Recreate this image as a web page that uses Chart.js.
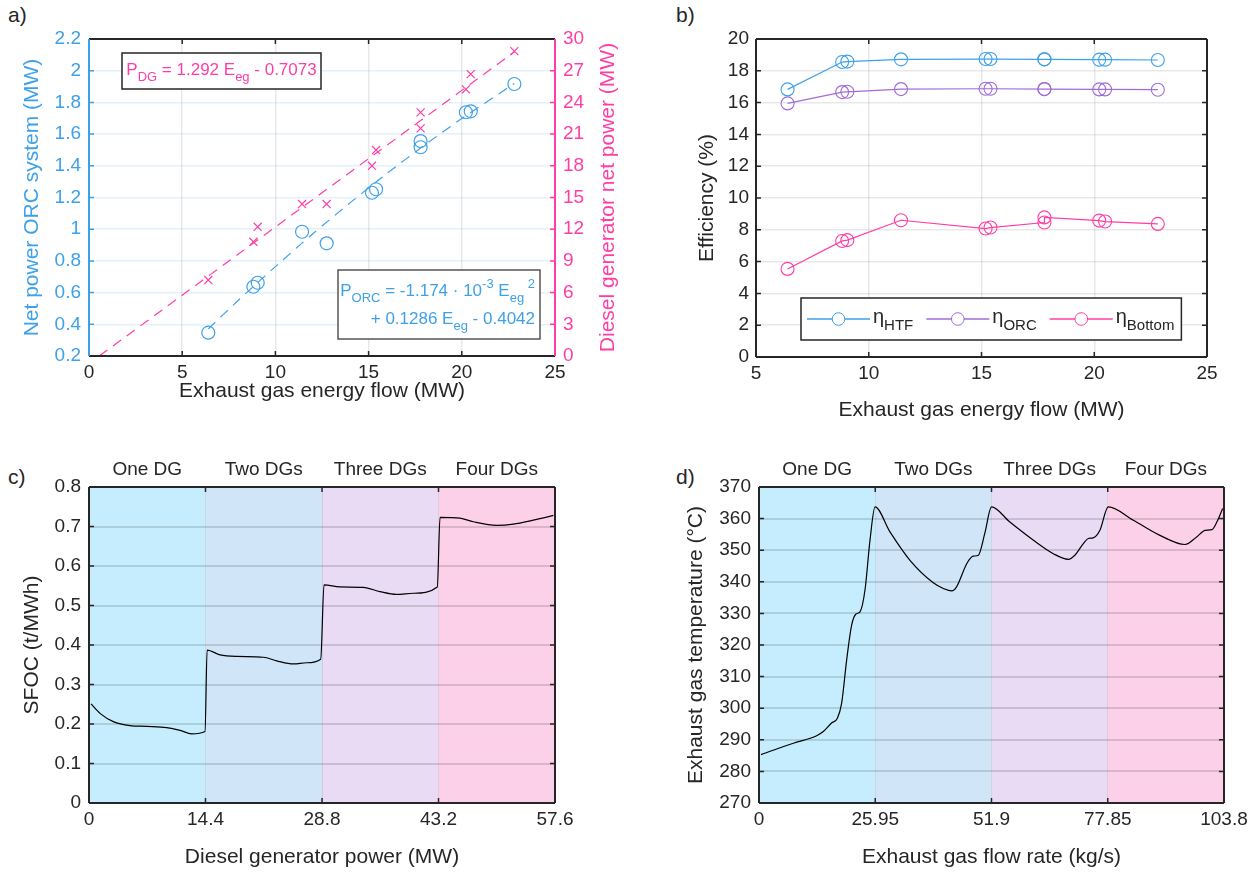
<!DOCTYPE html>
<html>
<head>
<meta charset="utf-8">
<script src="https://cdn.jsdelivr.net/npm/chart.js@4.4.0/dist/chart.umd.min.js"></script>
<style>
  body { margin: 0; background: #fff; width: 1259px; height: 873px; overflow: hidden; position: relative; font-family: 'Liberation Sans', Arial, sans-serif; }
  .panel { position: absolute; }
  .tag { position: absolute; font-size: 21px; color: #262626; line-height: 1; }
</style>
</head>
<body>
<div class="tag" style="left:8px;top:4px">a)</div>
<div class="tag" style="left:676px;top:4px">b)</div>
<div class="tag" style="left:8px;top:466px">c)</div>
<div class="tag" style="left:676px;top:466px">d)</div>

<canvas class="panel" id="chartA" width="640" height="440" style="left:0;top:0"></canvas>
<canvas class="panel" id="chartB" width="599" height="440" style="left:660px;top:0"></canvas>
<canvas class="panel" id="chartC" width="640" height="433" style="left:0;top:440px"></canvas>
<canvas class="panel" id="chartD" width="599" height="433" style="left:660px;top:440px"></canvas>

<script>
const FONT = "'Liberation Sans', Arial, sans-serif";
const INK = '#262626';
const BLUE = '#3da1ea';
const PINK = '#ff3ea5';
const PURPLE = '#a06cd5';

// a) ORC net power and DG net power vs exhaust gas energy flow
const egFlow   = [6.40, 8.82, 9.05, 11.43, 12.75, 15.18, 15.40, 17.79, 17.79, 20.22, 20.48, 22.82];
const orcPower = [0.347, 0.637, 0.662, 0.984, 0.911, 1.230, 1.252, 1.556, 1.517, 1.738, 1.744, 1.916];
const dgPower  = [7.19, 10.81, 12.23, 14.38, 14.38, 18.00, 19.49, 23.06, 21.54, 25.23, 26.68, 28.85];
const dgFitFlow  = [0.55, 22.82];
const dgFitPower = [0, 28.78];
const orcFitFlow  = [6.4, 8, 10, 12, 14, 16, 18, 20, 22.82];
const orcFitPower = [0.371, 0.550, 0.764, 0.970, 1.166, 1.353, 1.530, 1.698, 1.919];
const aTicksX = [0, 5, 10, 15, 20, 25];
const aTicksLeft = [0.2, 0.4, 0.6, 0.8, 1, 1.2, 1.4, 1.6, 1.8, 2, 2.2];
const aTicksRight = [0, 3, 6, 9, 12, 15, 18, 21, 24, 27, 30];

// b) efficiencies
const effFlow   = [6.40, 8.82, 9.05, 11.43, 15.18, 15.40, 17.79, 17.79, 20.22, 20.48, 22.82];
const etaHTF    = [16.83, 18.55, 18.58, 18.72, 18.74, 18.74, 18.72, 18.72, 18.70, 18.70, 18.68];
const etaORC    = [15.95, 16.66, 16.68, 16.85, 16.87, 16.87, 16.85, 16.85, 16.83, 16.83, 16.81];
const etaBottom = [5.54, 7.30, 7.35, 8.60, 8.08, 8.14, 8.46, 8.78, 8.58, 8.52, 8.37];
const bTicksX = [5, 10, 15, 20, 25];
const bTicksY = [0, 2, 4, 6, 8, 10, 12, 14, 16, 18, 20];

// c) SFOC vs DG power
const modeNames = ['One DG', 'Two DGs', 'Three DGs', 'Four DGs'];
const bandColors = ['#c6edfd', '#d0e6f8', '#e8dbf3', '#fdd0ea'];
const dgLoad = [0.25, 1.36, 3.01, 5.07, 7.13, 9.6, 11.25, 12.69, 14.34, 14.6, 16.2, 18.25, 21.55, 23.2, 25.26, 26.9, 28.64,
                29.05, 31.0, 33.9, 35.97, 38.0, 40.1, 43.05, 43.39, 45.86, 47.5, 50.4, 52.45, 54.9, 57.4];
const sfoc   = [0.251, 0.227, 0.206, 0.196, 0.194, 0.191, 0.184, 0.175, 0.181, 0.387, 0.375, 0.371, 0.369, 0.360, 0.352, 0.355, 0.364,
                0.552, 0.547, 0.546, 0.535, 0.528, 0.531, 0.547, 0.723, 0.721, 0.712, 0.703, 0.706, 0.716, 0.728];
const cTicksX = [0, 14.4, 28.8, 43.2, 57.6];
const cTicksY = [0, 0.1, 0.2, 0.3, 0.4, 0.5, 0.6, 0.7, 0.8];

// d) exhaust gas temperature vs flow rate
const egRate = [0.45, 3.94, 7.66, 12.87, 14.36, 16.2, 17.5, 18.45, 19.57, 20.68, 21.65, 22.55, 23.66, 24.78, 25.9,
                29.24, 33.7, 38.9, 41.15, 43.0, 44.1, 46.4, 47.8, 48.96, 50.4, 51.9,
                56.0, 61.2, 65.7, 69.05, 70.5, 72.4, 73.5, 74.6, 76.1, 77.96,
                83.55, 89.5, 95.1, 97.7, 99.6, 101.1, 102.2, 103.5];
const egTemp = [285.3, 287.1, 288.9, 291.3, 292.6, 295.3, 296.8, 301.6, 315.3, 326.3, 329.8, 330.5, 337.4, 353.2, 363.7,
                355.8, 346.8, 339.7, 337.9, 337.1, 338.4, 345.8, 348.1, 348.4, 355.3, 363.7,
                358.9, 353.2, 348.9, 347.1, 348.4, 352.1, 353.7, 353.9, 356.3, 363.7,
                359.5, 354.7, 351.8, 354.2, 356.3, 356.5, 358.9, 363.2];
const dTicksX = [0, 25.95, 51.9, 77.85, 103.8];
const dTicksY = [270, 280, 290, 300, 310, 320, 330, 340, 350, 360, 370];

const pts = (xs, ys) => xs.map((x, i) => ({ x, y: ys[i] }));

function axis(o) {
  const horiz = o.pos === 'bottom';
  return {
    type: 'linear',
    position: o.pos,
    min: o.ticks[0],
    max: o.ticks[o.ticks.length - 1],
    afterBuildTicks: s => { s.ticks = o.ticks.map(v => ({ value: v })); },
    afterFit: s => {
      if (horiz) { s.height = o.size; s.paddingLeft = 0; s.paddingRight = 0; }
      else { s.width = o.size; s.paddingTop = 0; s.paddingBottom = 0; }
    },
    ticks: { color: o.color || INK, font: { family: FONT, size: 19 }, padding: o.pad, maxRotation: 0, autoSkip: false, callback: v => String(v) },
    grid: o.grid ? { color: o.grid, lineWidth: o.gridWidth || 1, drawTicks: false } : { display: false, drawTicks: false },
    border: { display: false },
    title: { display: !!o.title, text: o.title, color: o.color || INK, font: { family: FONT, size: 21 }, padding: o.titlePad }
  };
}

// inward ticks, box and shaded bands (MATLAB look)
const frame = {
  id: 'frame',
  beforeDraw(chart, args, o) {
    if (!o.bands) return;
    const { ctx, chartArea: c } = chart;
    const x = chart.scales.x;
    ctx.save();
    for (let i = 0; i < o.bands.length - 1; i++) {
      const l = x.getPixelForValue(o.bands[i]);
      const r = x.getPixelForValue(o.bands[i + 1]);
      ctx.fillStyle = bandColors[i];
      ctx.fillRect(l, c.top, r - l, c.bottom - c.top);
      ctx.fillStyle = INK;
      ctx.font = `19px ${FONT}`;
      ctx.textAlign = 'center';
      ctx.textBaseline = 'middle';
      ctx.fillText(modeNames[i], (l + r) / 2, c.top - 17);
    }
    ctx.restore();
  },
  afterDraw(chart, args, o) {
    const { ctx, chartArea: c, scales } = chart;
    const x = scales.x, yl = scales.y, yr = scales[o.rightScale || 'y'];
    const left = o.leftColor || INK, right = o.rightColor || INK;
    const T = 5;
    ctx.save();
    ctx.lineWidth = 1.5;
    const seg = (col, lines) => {
      ctx.strokeStyle = col;
      ctx.beginPath();
      lines.forEach(([x1, y1, x2, y2]) => { ctx.moveTo(x1, y1); ctx.lineTo(x2, y2); });
      ctx.stroke();
    };
    seg(INK, x.ticks.flatMap(t => {
      const p = x.getPixelForValue(t.value);
      return [[p, c.bottom, p, c.bottom - T], [p, c.top, p, c.top + T]];
    }));
    seg(left, yl.ticks.map(t => { const p = yl.getPixelForValue(t.value); return [c.left, p, c.left + T, p]; }));
    seg(right, yr.ticks.map(t => { const p = yr.getPixelForValue(t.value); return [c.right, p, c.right - T, p]; }));
    ctx.lineWidth = 2;
    seg(INK, [[c.left, c.top, c.right, c.top], [c.left, c.bottom, c.right, c.bottom]]);
    seg(left, [[c.left, c.top, c.left, c.bottom]]);
    seg(right, [[c.right, c.top, c.right, c.bottom]]);
    ctx.restore();
  }
};
Chart.register(frame);

// text with sub/superscripts
function rich(ctx, parts, x, y, align, size) {
  const small = Math.round(size * 0.74);
  const fontOf = k => `${k ? small : size}px ${FONT}`;
  let w = 0;
  parts.forEach(([t, k]) => { ctx.font = fontOf(k); w += ctx.measureText(t).width; });
  let cx = align === 'right' ? x - w : align === 'center' ? x - w / 2 : x;
  ctx.textAlign = 'left';
  ctx.textBaseline = 'alphabetic';
  parts.forEach(([t, k]) => {
    ctx.font = fontOf(k);
    const dy = k === 'sub' ? size * 0.34 : k === 'sup' ? -size * 0.45 : 0;
    ctx.fillText(t, cx, y + dy);
    cx += ctx.measureText(t).width;
  });
  return w;
}

function textBox(ctx, x, y, w, h, border) {
  ctx.fillStyle = '#fff';
  ctx.fillRect(x, y, w, h);
  ctx.strokeStyle = border;
  ctx.lineWidth = 1.5;
  ctx.strokeRect(x, y, w, h);
}

const notesA = {
  id: 'notesA',
  afterDraw(chart) {
    const { ctx, chartArea: c } = chart;
    ctx.save();
    textBox(ctx, c.left + 33, c.top + 14, 199, 36, INK);
    ctx.fillStyle = PINK;
    rich(ctx, [['P'], ['DG', 'sub'], [' = 1.292 E'], ['eg', 'sub'], [' - 0.7073']], c.left + 33 + 99.5, c.top + 36, 'center', 17);
    textBox(ctx, c.left + 249, c.top + 231, 202, 69, '#555');
    ctx.fillStyle = BLUE;
    rich(ctx, [['P'], ['ORC', 'sub'], [' = -1.174 \u00b7 10'], ['-3', 'sup'], [' E'], ['eg', 'sub'], [' 2', 'sup']], c.left + 446, c.top + 257, 'right', 17);
    rich(ctx, [['+ 0.1286 E'], ['eg', 'sub'], [' - 0.4042']], c.left + 446, c.top + 285, 'right', 17);
    // right axis title, reading upwards like the left one
    ctx.translate(608, (c.top + c.bottom) / 2);
    ctx.rotate(-Math.PI / 2);
    ctx.fillStyle = PINK;
    ctx.font = `21px ${FONT}`;
    ctx.textAlign = 'center';
    ctx.textBaseline = 'middle';
    ctx.fillText('Diesel generator net power (MW)', 0, 0);
    ctx.restore();
  }
};

const legendB = {
  id: 'legendB',
  afterDraw(chart) {
    const { ctx, chartArea: c } = chart;
    const items = [['HTF', BLUE], ['ORC', PURPLE], ['Bottom', PINK]];
    const bx = c.left + 45, by = c.top + 259, bh = 42;
    ctx.save();
    let w = 6;
    items.forEach(([s], i) => {
      ctx.font = `20px ${FONT}`; w += 63 + 3 + ctx.measureText('\u03b7').width;
      ctx.font = `15px ${FONT}`; w += ctx.measureText(s).width + (i < items.length - 1 ? 13 : 7);
    });
    textBox(ctx, bx, by, w, bh, INK);
    let x = bx + 6;
    const cy = by + bh / 2;
    items.forEach(([s, col]) => {
      ctx.strokeStyle = col; ctx.lineWidth = 1.5;
      ctx.beginPath(); ctx.moveTo(x, cy); ctx.lineTo(x + 63, cy); ctx.stroke();
      ctx.fillStyle = '#fff';
      ctx.beginPath(); ctx.arc(x + 31.5, cy, 6.3, 0, Math.PI * 2); ctx.fill();
      ctx.lineWidth = 1; ctx.stroke();
      x += 66;
      ctx.fillStyle = INK;
      x += rich(ctx, [['\u03b7'], [s, 'sub']], x, cy + 4, 'left', 20) + 13;
    });
    ctx.restore();
  }
};

const base = {
  responsive: false,
  animation: false,
  events: [],
  plugins: { legend: { display: false }, tooltip: { enabled: false } }
};

new Chart(document.getElementById('chartA'), {
  type: 'scatter',
  data: {
    datasets: [
      { data: pts(dgFitFlow, dgFitPower), yAxisID: 'y2', showLine: true, borderColor: PINK, borderWidth: 1.2, borderDash: [10, 7], pointRadius: 0 },
      { data: pts(orcFitFlow, orcFitPower), yAxisID: 'y', showLine: true, borderColor: BLUE, borderWidth: 1.2, borderDash: [10, 7], pointRadius: 0, tension: 0.3 },
      { data: pts(egFlow, dgPower), yAxisID: 'y2', pointStyle: 'crossRot', pointRadius: 5.7, pointBorderWidth: 1.2, pointBorderColor: PINK },
      { data: pts(egFlow, orcPower), yAxisID: 'y', pointStyle: 'circle', pointRadius: 6.5, pointBorderWidth: 1.2, pointBorderColor: BLUE, pointBackgroundColor: 'rgba(0,0,0,0)' }
    ]
  },
  options: {
    ...base,
    layout: { padding: { top: 39, left: 0, right: 0, bottom: 0 } },
    scales: {
      x: axis({ pos: 'bottom', ticks: aTicksX, size: 84, pad: 5, title: 'Exhaust gas energy flow (MW)', titlePad: 36, grid: 'rgba(0,0,0,0.09)', gridWidth: 1.5 }),
      y: axis({ pos: 'left', ticks: aTicksLeft, size: 89, pad: 8, color: BLUE, title: 'Net power ORC system (MW)', titlePad: 20, grid: 'rgba(61,161,234,0.15)', gridWidth: 1.5 }),
      y2: axis({ pos: 'right', ticks: aTicksRight, size: 85, pad: 8, color: PINK })
    },
    plugins: { ...base.plugins, frame: { leftColor: BLUE, rightColor: PINK, rightScale: 'y2' } }
  },
  plugins: [notesA]
});

const effSet = (ys, col) => ({
  data: pts(effFlow, ys), showLine: true, borderColor: col, borderWidth: 1.2,
  pointStyle: 'circle', pointRadius: 6.5, pointBorderWidth: 1.1, pointBorderColor: col, pointBackgroundColor: 'rgba(0,0,0,0)'
});

new Chart(document.getElementById('chartB'), {
  type: 'scatter',
  data: { datasets: [effSet(etaHTF, BLUE), effSet(etaORC, PURPLE), effSet(etaBottom, PINK)] },
  options: {
    ...base,
    layout: { padding: { top: 39, left: 0, right: 52, bottom: 0 } },
    scales: {
      x: axis({ pos: 'bottom', ticks: bTicksX, size: 83, pad: 5, title: 'Exhaust gas energy flow (MW)', titlePad: 17, grid: 'rgba(0,0,0,0.09)', gridWidth: 1.5 }),
      y: axis({ pos: 'left', ticks: bTicksY, size: 96, pad: 7, title: 'Efficiency (%)', titlePad: 35, grid: 'rgba(0,0,0,0.09)', gridWidth: 1.5 })
    },
    plugins: { ...base.plugins, frame: {} }
  },
  plugins: [legendB]
});

const curveSet = (xs, ys) => ({
  data: pts(xs, ys), showLine: true, borderColor: '#000', borderWidth: 1.2, pointRadius: 0, cubicInterpolationMode: 'monotone'
});

new Chart(document.getElementById('chartC'), {
  type: 'scatter',
  data: { datasets: [curveSet(dgLoad, sfoc)] },
  options: {
    ...base,
    layout: { padding: { top: 47, left: 0, right: 85, bottom: 0 } },
    scales: {
      x: axis({ pos: 'bottom', ticks: cTicksX, size: 70, pad: 5, title: 'Diesel generator power (MW)', titlePad: 3, grid: 'rgba(38,38,38,0.1)', gridWidth: 1 }),
      y: axis({ pos: 'left', ticks: cTicksY, size: 89, pad: 8, title: 'SFOC (t/MWh)', titlePad: 20, grid: 'rgba(38,38,38,0.16)', gridWidth: 2 })
    },
    plugins: { ...base.plugins, frame: { bands: cTicksX } }
  }
});

new Chart(document.getElementById('chartD'), {
  type: 'scatter',
  data: { datasets: [curveSet(egRate, egTemp)] },
  options: {
    ...base,
    layout: { padding: { top: 47, left: 0, right: 35, bottom: 0 } },
    scales: {
      x: axis({ pos: 'bottom', ticks: dTicksX, size: 70, pad: 5, title: 'Exhaust gas flow rate (kg/s)', titlePad: 3, grid: 'rgba(38,38,38,0.1)', gridWidth: 1 }),
      y: axis({ pos: 'left', ticks: dTicksY, size: 99, pad: 8, title: 'Exhaust gas temperature (\u00b0C)', titlePad: 24, grid: 'rgba(38,38,38,0.16)', gridWidth: 2 })
    },
    plugins: { ...base.plugins, frame: { bands: dTicksX } }
  }
});
</script>
</body>
</html>
